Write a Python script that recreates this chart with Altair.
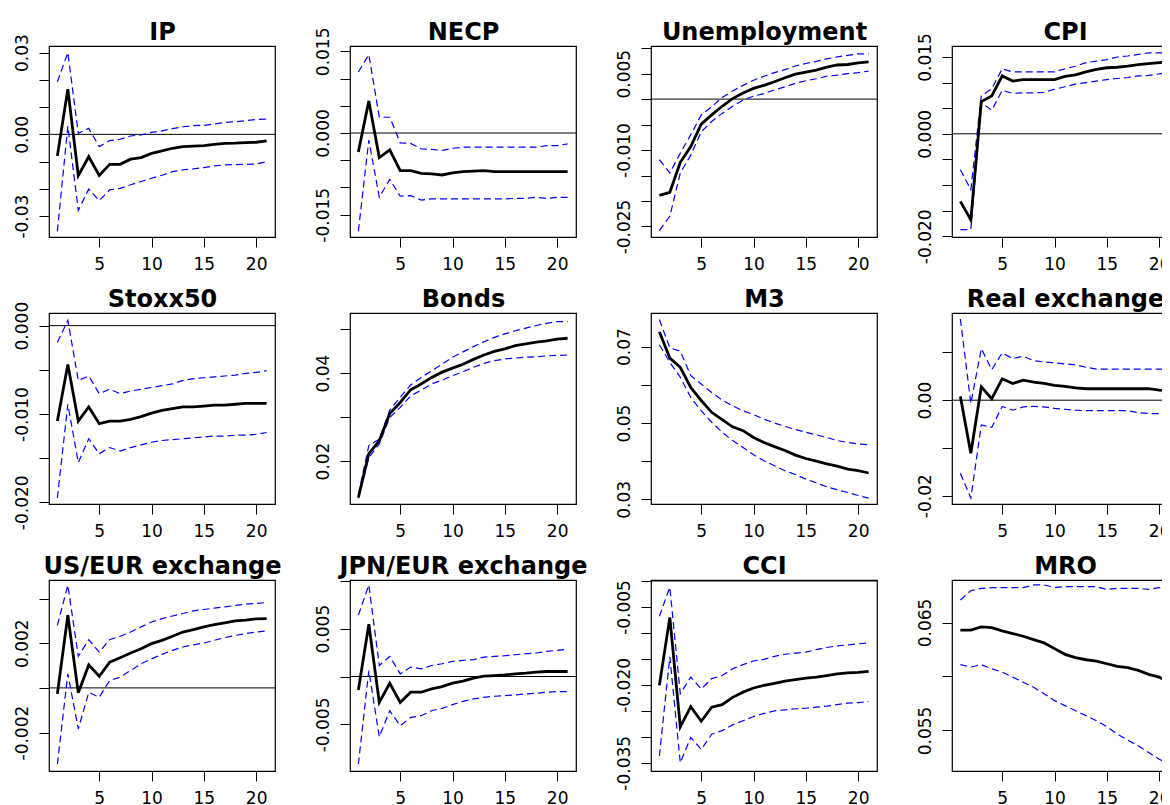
import altair as alt
import pandas as pd

T = list(range(1, 22))

IP_resp = [-0.0079, 0.0166, -0.0151, -0.0082, -0.0151, -0.0110, -0.0110, -0.0091, -0.0085, -0.0070, -0.0061, -0.0051, -0.0045, -0.0043, -0.0041, -0.0037, -0.0033, -0.0032, -0.0030, -0.0029, -0.0024]
IP_lo = [-0.0356, 0.0030, -0.0279, -0.0201, -0.0243, -0.0204, -0.0198, -0.0185, -0.0173, -0.0161, -0.0150, -0.0137, -0.0130, -0.0127, -0.0122, -0.0116, -0.0112, -0.0111, -0.0110, -0.0109, -0.0100]
IP_hi = [0.0193, 0.0300, 0.0004, 0.0022, -0.0045, -0.0023, -0.0018, -0.0006, -0.0002, 0.0007, 0.0013, 0.0021, 0.0028, 0.0032, 0.0033, 0.0038, 0.0044, 0.0046, 0.0050, 0.0055, 0.0056]

NECP_resp = [-0.0035, 0.0059, -0.0045, -0.0031, -0.0069, -0.0069, -0.0074, -0.0075, -0.0077, -0.0073, -0.0071, -0.0070, -0.0069, -0.0071, -0.0071, -0.0071, -0.0071, -0.0071, -0.0071, -0.0071, -0.0071]
NECP_lo = [-0.0180, -0.0013, -0.0118, -0.0085, -0.0116, -0.0115, -0.0123, -0.0121, -0.0121, -0.0121, -0.0121, -0.0121, -0.0121, -0.0121, -0.0121, -0.0120, -0.0120, -0.0118, -0.0120, -0.0118, -0.0118]
NECP_hi = [0.0112, 0.0144, 0.0029, 0.0029, -0.0018, -0.0019, -0.0029, -0.0030, -0.0032, -0.0028, -0.0026, -0.0026, -0.0026, -0.0026, -0.0026, -0.0026, -0.0026, -0.0026, -0.0023, -0.0023, -0.0020]

UNEMP_resp = [-0.0189, -0.0183, -0.0124, -0.0093, -0.0049, -0.0031, -0.0014, 0.0001, 0.0012, 0.0021, 0.0027, 0.0034, 0.0042, 0.0049, 0.0053, 0.0057, 0.0063, 0.0067, 0.0068, 0.0071, 0.0073]
UNEMP_lo = [-0.0258, -0.0230, -0.0145, -0.0110, -0.0064, -0.0044, -0.0028, -0.0014, -0.0002, 0.0006, 0.0011, 0.0018, 0.0024, 0.0031, 0.0036, 0.0040, 0.0045, 0.0047, 0.0050, 0.0052, 0.0055]
UNEMP_hi = [-0.0119, -0.0145, -0.0106, -0.0070, -0.0031, -0.0015, 0.0003, 0.0016, 0.0027, 0.0037, 0.0045, 0.0052, 0.0058, 0.0065, 0.0070, 0.0074, 0.0079, 0.0083, 0.0086, 0.0089, 0.0089]

CPI_resp = [-0.0132, -0.0168, 0.0063, 0.0074, 0.0113, 0.0103, 0.0106, 0.0106, 0.0106, 0.0106, 0.0112, 0.0115, 0.0121, 0.0126, 0.0129, 0.0130, 0.0132, 0.0135, 0.0137, 0.0139, 0.0140]
CPI_lo = [-0.0187, -0.0187, 0.0061, 0.0046, 0.0085, 0.0079, 0.0080, 0.0080, 0.0081, 0.0087, 0.0092, 0.0097, 0.0100, 0.0103, 0.0106, 0.0108, 0.0110, 0.0113, 0.0114, 0.0117, 0.0121]
CPI_hi = [-0.0070, -0.0109, 0.0074, 0.0088, 0.0127, 0.0121, 0.0121, 0.0121, 0.0121, 0.0121, 0.0127, 0.0132, 0.0139, 0.0142, 0.0145, 0.0150, 0.0152, 0.0155, 0.0158, 0.0158, 0.0158]

STOXX_resp = [-0.0108, -0.0044, -0.0108, -0.0092, -0.0111, -0.0108, -0.0108, -0.0106, -0.0103, -0.0099, -0.0096, -0.0094, -0.0092, -0.0092, -0.0091, -0.0090, -0.0090, -0.0089, -0.0088, -0.0088, -0.0088]
STOXX_lo = [-0.0195, -0.0089, -0.0155, -0.0128, -0.0145, -0.0138, -0.0142, -0.0138, -0.0135, -0.0132, -0.0130, -0.0129, -0.0128, -0.0127, -0.0126, -0.0125, -0.0125, -0.0124, -0.0124, -0.0123, -0.0121]
STOXX_hi = [-0.0019, 0.0006, -0.0062, -0.0057, -0.0077, -0.0072, -0.0077, -0.0074, -0.0072, -0.0070, -0.0068, -0.0066, -0.0062, -0.0060, -0.0059, -0.0058, -0.0057, -0.0056, -0.0054, -0.0053, -0.0051]

BONDS_resp = [0.0117, 0.0217, 0.0246, 0.0308, 0.0333, 0.0362, 0.0375, 0.0390, 0.0402, 0.0411, 0.0420, 0.0431, 0.0441, 0.0449, 0.0455, 0.0462, 0.0466, 0.0470, 0.0473, 0.0477, 0.0479]
BONDS_lo = [0.0115, 0.0208, 0.0239, 0.0299, 0.0322, 0.0348, 0.0361, 0.0375, 0.0384, 0.0394, 0.0403, 0.0413, 0.0422, 0.0428, 0.0432, 0.0434, 0.0436, 0.0437, 0.0439, 0.0440, 0.0441]
BONDS_hi = [0.0124, 0.0235, 0.0250, 0.0316, 0.0345, 0.0373, 0.0390, 0.0405, 0.0420, 0.0436, 0.0448, 0.0460, 0.0471, 0.0481, 0.0489, 0.0496, 0.0502, 0.0508, 0.0513, 0.0517, 0.0517]

M3_resp = [0.0739, 0.0670, 0.0646, 0.0593, 0.0559, 0.0528, 0.0509, 0.0490, 0.0480, 0.0462, 0.0449, 0.0438, 0.0428, 0.0416, 0.0407, 0.0400, 0.0393, 0.0387, 0.0379, 0.0375, 0.0369]
M3_lo = [0.0705, 0.0659, 0.0620, 0.0567, 0.0532, 0.0502, 0.0476, 0.0454, 0.0436, 0.0417, 0.0401, 0.0388, 0.0375, 0.0365, 0.0353, 0.0343, 0.0333, 0.0325, 0.0318, 0.0310, 0.0303]
M3_hi = [0.0771, 0.0697, 0.0688, 0.0624, 0.0602, 0.0580, 0.0560, 0.0545, 0.0532, 0.0522, 0.0510, 0.0500, 0.0491, 0.0483, 0.0476, 0.0469, 0.0462, 0.0454, 0.0449, 0.0445, 0.0443]

REALX_resp = [0.0008, -0.0111, 0.0028, 0.0003, 0.0045, 0.0035, 0.0042, 0.0038, 0.0035, 0.0031, 0.0029, 0.0026, 0.0024, 0.0024, 0.0024, 0.0024, 0.0024, 0.0024, 0.0024, 0.0021, 0.0019]
REALX_lo = [-0.0153, -0.0205, -0.0052, -0.0057, -0.0013, -0.0021, -0.0014, -0.0013, -0.0014, -0.0017, -0.0019, -0.0021, -0.0022, -0.0022, -0.0022, -0.0022, -0.0022, -0.0026, -0.0028, -0.0028, -0.0028]
REALX_hi = [0.0170, -0.0007, 0.0108, 0.0064, 0.0099, 0.0087, 0.0092, 0.0083, 0.0080, 0.0078, 0.0076, 0.0074, 0.0069, 0.0065, 0.0065, 0.0065, 0.0065, 0.0065, 0.0065, 0.0065, 0.0065]

USEUR_resp = [-0.00027, 0.00325, -0.00022, 0.00103, 0.00052, 0.00115, 0.00135, 0.00156, 0.00175, 0.00198, 0.00213, 0.00231, 0.00250, 0.00261, 0.00273, 0.00283, 0.00291, 0.00300, 0.00303, 0.00309, 0.00310]
USEUR_lo = [-0.00342, 0.00063, -0.00184, -0.00020, -0.00042, 0.00033, 0.00048, 0.00078, 0.00108, 0.00130, 0.00150, 0.00168, 0.00183, 0.00193, 0.00201, 0.00213, 0.00225, 0.00235, 0.00243, 0.00250, 0.00255]
USEUR_hi = [0.00280, 0.00460, 0.00141, 0.00216, 0.00160, 0.00216, 0.00231, 0.00250, 0.00273, 0.00295, 0.00310, 0.00322, 0.00333, 0.00345, 0.00351, 0.00357, 0.00363, 0.00369, 0.00375, 0.00378, 0.00382]

JPN_resp = [-0.00140, 0.00545, -0.00270, -0.00070, -0.00270, -0.00164, -0.00164, -0.00130, -0.00105, -0.00070, -0.00049, -0.00017, 0.00003, 0.00010, 0.00017, 0.00028, 0.00035, 0.00045, 0.00052, 0.00052, 0.00052]
JPN_lo = [-0.00916, 0.00063, -0.00630, -0.00357, -0.00514, -0.00427, -0.00409, -0.00357, -0.00332, -0.00294, -0.00259, -0.00234, -0.00217, -0.00206, -0.00199, -0.00192, -0.00182, -0.00175, -0.00164, -0.00157, -0.00157]
JPN_hi = [0.00640, 0.00955, 0.00115, 0.00210, 0.00028, 0.00098, 0.00080, 0.00115, 0.00133, 0.00157, 0.00168, 0.00175, 0.00203, 0.00210, 0.00217, 0.00227, 0.00238, 0.00245, 0.00262, 0.00273, 0.00283]

CCI_resp = [-0.0201, -0.0070, -0.0281, -0.0242, -0.0270, -0.0243, -0.0238, -0.0224, -0.0214, -0.0206, -0.0201, -0.0197, -0.0193, -0.0190, -0.0187, -0.0185, -0.0182, -0.0179, -0.0177, -0.0176, -0.0174]
CCI_lo = [-0.0337, -0.0146, -0.0350, -0.0301, -0.0324, -0.0295, -0.0288, -0.0277, -0.0269, -0.0261, -0.0255, -0.0250, -0.0248, -0.0246, -0.0245, -0.0243, -0.0241, -0.0238, -0.0235, -0.0234, -0.0232]
CCI_hi = [-0.0068, -0.0012, -0.0217, -0.0185, -0.0208, -0.0188, -0.0182, -0.0169, -0.0161, -0.0154, -0.0151, -0.0145, -0.0141, -0.0139, -0.0137, -0.0132, -0.0128, -0.0125, -0.0123, -0.0121, -0.0119]

MRO_resp = [0.06429, 0.06429, 0.06460, 0.06453, 0.06422, 0.06398, 0.06373, 0.06342, 0.06311, 0.06258, 0.06205, 0.06174, 0.06155, 0.06143, 0.06118, 0.06093, 0.06081, 0.06056, 0.06019, 0.05994, 0.05947]
MRO_lo = [0.06109, 0.06087, 0.06109, 0.06071, 0.06040, 0.05994, 0.05947, 0.05901, 0.05839, 0.05776, 0.05730, 0.05683, 0.05637, 0.05590, 0.05534, 0.05466, 0.05410, 0.05357, 0.05295, 0.05233, 0.05186]
MRO_hi = [0.06708, 0.06795, 0.06817, 0.06823, 0.06823, 0.06823, 0.06823, 0.06848, 0.06848, 0.06826, 0.06832, 0.06832, 0.06832, 0.06832, 0.06807, 0.06817, 0.06817, 0.06817, 0.06807, 0.06823, 0.06823]

TITLES = ["IP", "NECP", "Unemployment", "CPI", "Stoxx50", "Bonds", "M3",
          "Real exchange", "US/EUR exchange", "JPN/EUR exchange", "CCI", "MRO"]
SERIES = [(IP_resp, IP_lo, IP_hi), (NECP_resp, NECP_lo, NECP_hi),
          (UNEMP_resp, UNEMP_lo, UNEMP_hi), (CPI_resp, CPI_lo, CPI_hi),
          (STOXX_resp, STOXX_lo, STOXX_hi), (BONDS_resp, BONDS_lo, BONDS_hi),
          (M3_resp, M3_lo, M3_hi), (REALX_resp, REALX_lo, REALX_hi),
          (USEUR_resp, USEUR_lo, USEUR_hi), (JPN_resp, JPN_lo, JPN_hi),
          (CCI_resp, CCI_lo, CCI_hi), (MRO_resp, MRO_lo, MRO_hi)]

# y-axis ranges, tick values and labelled ticks per panel
Y_DOMAINS = [(-0.03768, 0.03244), (-0.01909, 0.01598), (-0.02707, 0.01043),
             (-0.02015, 0.01715), (-0.02019, 0.00143), (0.01023, 0.05364),
             (0.02878, 0.07882), (-0.02174, 0.01826), (-0.00372, 0.00483),
             (-0.00986, 0.01007), (-0.03658, 0.00019), (0.05124, 0.06894)]
Y_TICKS = [
    [-0.03, -0.02, -0.01, 0.0, 0.01, 0.02, 0.03],
    [-0.015, -0.01, -0.005, 0.0, 0.005, 0.01, 0.015],
    [-0.025, -0.02, -0.015, -0.01, -0.005, 0.0, 0.005, 0.01],
    [-0.02, -0.015, -0.01, -0.005, 0.0, 0.005, 0.01, 0.015],
    [-0.02, -0.015, -0.01, -0.005, 0.0],
    [0.02, 0.03, 0.04, 0.05],
    [0.03, 0.04, 0.05, 0.06, 0.07],
    [-0.02, -0.01, 0.0, 0.01],
    [-0.002, 0.0, 0.002, 0.004],
    [-0.005, 0.0, 0.005, 0.01],
    [-0.035, -0.03, -0.025, -0.02, -0.015, -0.01, -0.005, 0.0],
    [0.055, 0.06, 0.065],
]
Y_LABELS = [
    [(0.03, "0.03"), (0.0, "0.00"), (-0.03, "-0.03")],
    [(0.015, "0.015"), (0.0, "0.000"), (-0.015, "-0.015")],
    [(0.005, "0.005"), (-0.01, "-0.010"), (-0.025, "-0.025")],
    [(0.015, "0.015"), (0.0, "0.000"), (-0.02, "-0.020")],
    [(0.0, "0.000"), (-0.01, "-0.010"), (-0.02, "-0.020")],
    [(0.02, "0.02"), (0.04, "0.04")],
    [(0.07, "0.07"), (0.05, "0.05"), (0.03, "0.03")],
    [(0.0, "0.00"), (-0.02, "-0.02")],
    [(0.002, "0.002"), (-0.002, "-0.002")],
    [(0.005, "0.005"), (-0.005, "-0.005")],
    [(-0.005, "-0.005"), (-0.02, "-0.020"), (-0.035, "-0.035")],
    [(0.065, "0.065"), (0.055, "0.055")],
]
X_TICKS = [5, 10, 15, 20]

FONT = "DejaVu Sans"
W, H = 226, 191


def label_expr(pairs):
    expr = "''"
    for v, s in reversed(pairs):
        expr = f"abs(datum.value - ({v})) < 1e-7 ? '{s}' : {expr}"
    return expr


def panel(title, series, dom, ticks, labels):
    resp, lo, hi = series
    df = pd.DataFrame({
        "t": T * 3,
        "v": resp + lo + hi,
        "s": ["resp"] * len(T) + ["lo"] * len(T) + ["hi"] * len(T),
    })
    xscale = alt.Scale(domain=[0.2, 21.8], nice=False, zero=False)
    yscale = alt.Scale(domain=list(dom), nice=False, zero=False)
    xaxis = alt.Axis(values=X_TICKS, title=None, grid=False, domain=False,
                     tickSize=10, labelPadding=9, labelFlush=False,
                     labelOverlap=False)
    topaxis = alt.Axis(orient="top", title=title, grid=False, domain=False,
                       ticks=False, labels=False, titlePadding=2,
                       titleFont=FONT, titleFontSize=24,
                       titleFontWeight="bold", titleColor="black")
    yaxis = alt.Axis(values=ticks, title=None, grid=False, domain=False,
                     tickSize=10, labelAngle=270, labelAlign="center",
                     labelBaseline="bottom", labelPadding=8,
                     labelOverlap=False, labelFlush=False,
                     labelExpr=label_expr(labels))
    yenc = alt.Y("v:Q", scale=yscale, axis=yaxis)
    bands = alt.Chart(df).transform_filter("datum.s != 'resp'").mark_line(
        color="#0000ff", strokeWidth=1.2, strokeDash=[7, 4], clip=True
    ).encode(x=alt.X("t:Q", scale=xscale, axis=xaxis), y=yenc,
             detail="s:N")
    line = alt.Chart(df).transform_filter("datum.s == 'resp'").mark_line(
        color="black", strokeWidth=2.8, clip=True
    ).encode(x=alt.X("t:Q", scale=xscale, axis=topaxis), y=yenc)
    layers = [bands, line]
    if dom[0] < 0 < dom[1]:
        zero = alt.Chart(pd.DataFrame({"z": [0.0]})).mark_rule(
            color="black", strokeWidth=1).encode(
            y=alt.Y("z:Q", scale=yscale, axis=yaxis))
        layers = [zero] + layers
    return alt.layer(*layers).resolve_axis(x="independent").properties(
        width=W, height=H)


panels = [panel(TITLES[i], SERIES[i], Y_DOMAINS[i], Y_TICKS[i], Y_LABELS[i])
          for i in range(12)]

# fixed origin: first plot box at page (49, 46); svg clipped at the page edge
chart = alt.concat(*panels, columns=4, spacing={"row": 76, "column": 75},
                   bounds="flush").properties(
    autosize=alt.AutoSizeParams(type="none"),
    padding={"left": 41, "top": 38, "right": 1113, "bottom": 759},
).configure_view(
    stroke="black", strokeWidth=1.2
).configure_axis(
    tickColor="black", tickWidth=1, labelColor="black", labelFont=FONT,
    labelFontSize=17
)

chart.save("out.html", embed_options={"renderer": "svg", "actions": False})
